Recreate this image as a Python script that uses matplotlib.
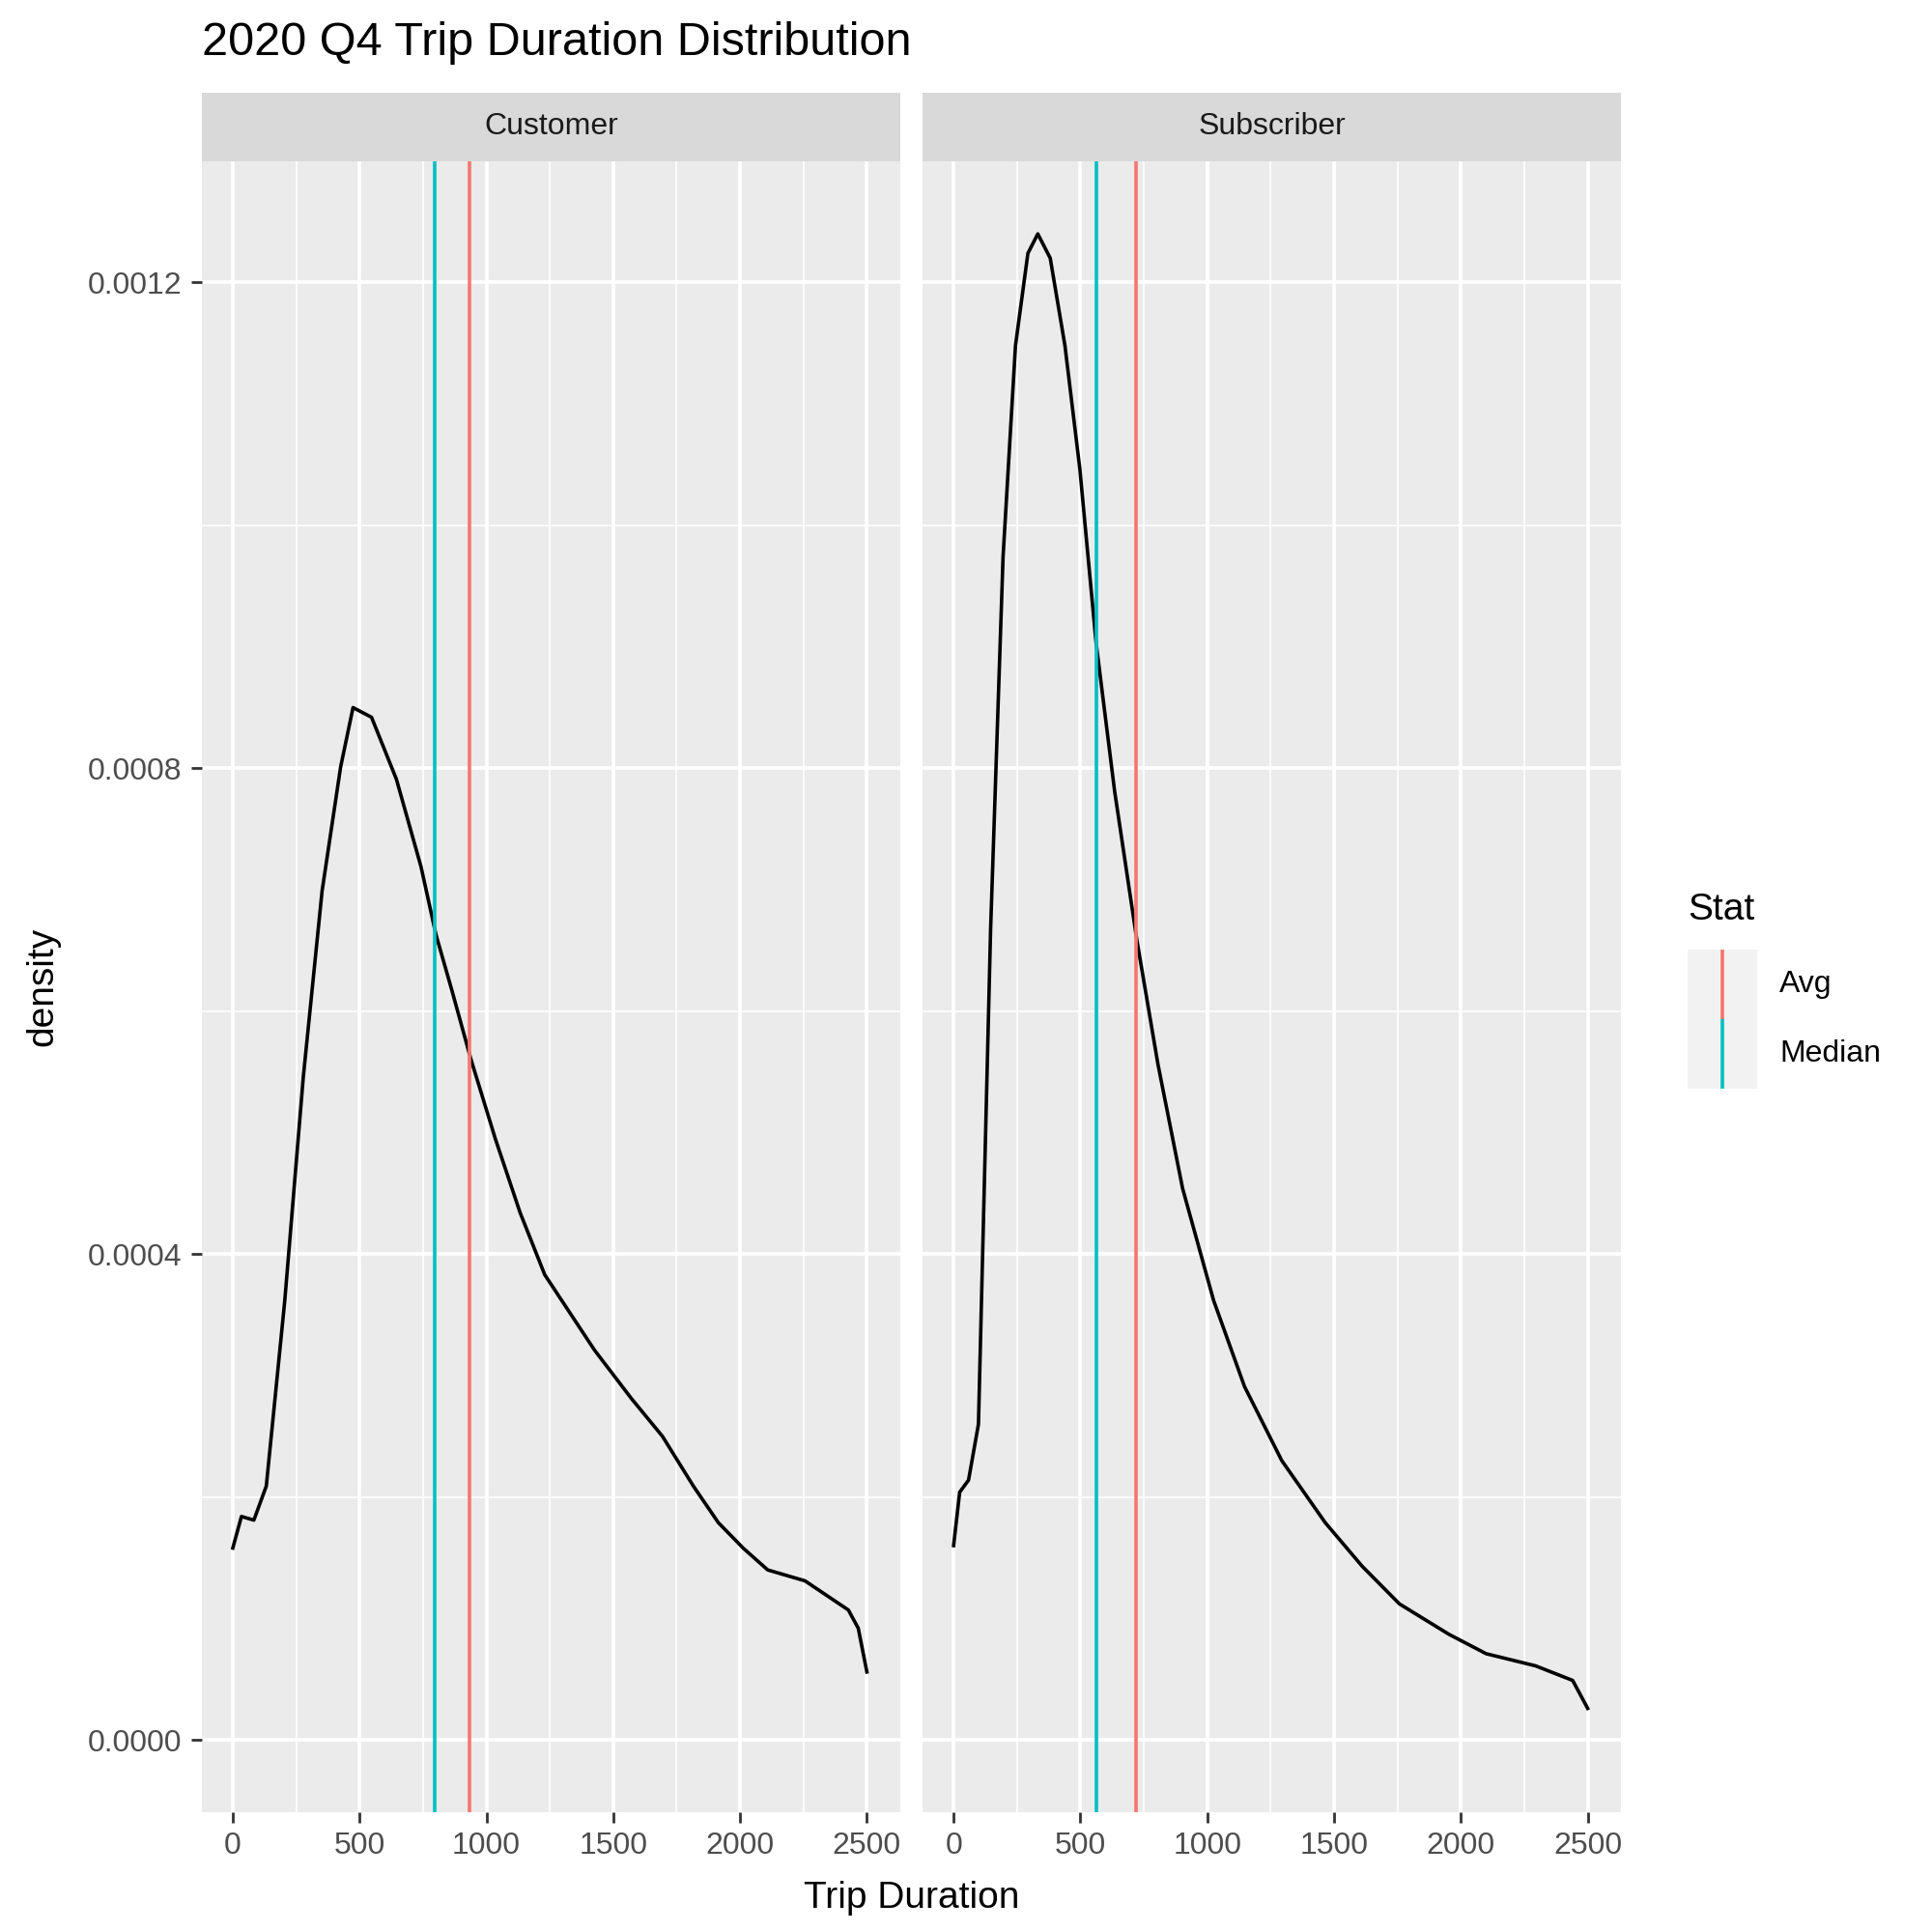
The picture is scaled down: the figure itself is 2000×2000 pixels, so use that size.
import numpy as np
import matplotlib
matplotlib.use("Agg")
import matplotlib.pyplot as plt

plt.rcParams['font.family'] = ['Liberation Sans', 'DejaVu Sans']

panels = ["Customer", "Subscriber"]
cust_x = [0, 34, 83, 132, 205, 278, 352, 425, 474, 547, 645, 742, 801, 864, 938, 1035, 1133,
          1230, 1328, 1426, 1572, 1694, 1816, 1914, 2012, 2109, 2256, 2427, 2466, 2500]
cust_y = [0.000158, 0.000184, 0.000181, 0.000209, 0.000362, 0.000546, 0.000699, 0.000801,
          0.00085, 0.000842, 0.000791, 0.000719, 0.000663, 0.000617, 0.000561, 0.000495,
          0.000434, 0.000383, 0.000352, 0.000321, 0.000281, 0.00025, 0.000209, 0.000179,
          0.000158, 0.00014, 0.000131, 0.000107, 0.000092, 0.000056]
subs_x = [0, 24, 59, 98, 146, 195, 244, 293, 332, 381, 439, 498, 562, 635, 723, 806, 903,
          1025, 1147, 1294, 1465, 1611, 1758, 1953, 2100, 2295, 2441, 2500]
subs_y = [0.00016, 0.000204, 0.000214, 0.00026, 0.000668, 0.000974, 0.001148, 0.001224,
          0.00124, 0.00122, 0.001148, 0.001046, 0.000903, 0.000781, 0.000658, 0.000556,
          0.000454, 0.000362, 0.000291, 0.00023, 0.000179, 0.000143, 0.000112, 0.000087,
          0.000071, 0.000061, 0.000049, 0.000026]
medians = [796, 562]
avgs = [933, 718]

AVG_C, MED_C = "#F8766D", "#00BFC4"
S = 1560.0
fig = plt.figure(figsize=(10, 10), dpi=200)
fig.patch.set_facecolor("white")

curves = [(cust_x, cust_y), (subs_x, subs_y)]
for i, name in enumerate(panels):
    left = (163 if i == 0 else 745) / S
    ax = fig.add_axes([left, 1 - 1463 / S, 564 / S, 1333 / S])
    ax.set_facecolor("#EBEBEB")
    for sp in ax.spines.values():
        sp.set_visible(False)
    ax.set_xlim(-122, 2632)
    ax.set_ylim(-0.0000592, 0.0013)
    ax.set_xticks([0, 500, 1000, 1500, 2000, 2500])
    ax.set_xticks([250, 750, 1250, 1750, 2250], minor=True)
    ax.set_yticks([0, 0.0004, 0.0008, 0.0012])
    ax.set_yticks([0.0002, 0.0006, 0.001], minor=True)
    ax.grid(which="major", color="white", lw=1.3)
    ax.grid(which="minor", color="white", lw=0.6)
    ax.set_axisbelow(True)
    ax.tick_params(which="major", color="#333333", length=4, width=1, labelsize=11.5,
                   labelcolor="#4D4D4D")
    ax.tick_params(which="minor", length=0)
    if i == 0:
        ax.set_yticklabels(["0.0000", "0.0004", "0.0008", "0.0012"])
        ax.set_ylabel("density", fontsize=14, labelpad=10)
    else:
        ax.tick_params(axis="y", which="both", length=0, labelleft=False)
    ax.plot(curves[i][0], curves[i][1], color="black", lw=1.3)
    ax.axvline(medians[i], color=MED_C, lw=1.3)
    ax.axvline(avgs[i], color=AVG_C, lw=1.3)
    strip = fig.add_axes([left, 1 - 130 / S, 564 / S, 55 / S])
    strip.set_facecolor("#D9D9D9")
    strip.set_xticks([]); strip.set_yticks([])
    for sp in strip.spines.values():
        sp.set_visible(False)
    strip.text(0.5, 0.5, name, ha="center", va="center", fontsize=11.5, color="#1A1A1A")

fig.text(736 / S, 1 - 1533 / S, "Trip Duration", ha="center", va="center", fontsize=14)
fig.text(163 / S, 1 - 35 / S, "2020 Q4 Trip Duration Distribution", ha="left", va="center",
         fontsize=17.5)

# legend
fig.text(1363 / S, 1 - 735 / S, "Stat", ha="left", va="center", fontsize=14)
for j, (lab, col) in enumerate([("Avg", AVG_C), ("Median", MED_C)]):
    top = 767 + j * 56
    k = fig.add_axes([1363 / S, 1 - (top + 56) / S, 56 / S, 56 / S])
    k.set_facecolor("#F2F2F2")
    k.set_xlim(0, 1); k.set_ylim(0, 1)
    k.set_xticks([]); k.set_yticks([])
    for sp in k.spines.values():
        sp.set_visible(False)
    k.axvline(0.5, color=col, lw=1.3)
    fig.text(1437 / S, 1 - (top + 28) / S, lab, ha="left", va="center", fontsize=11.5)

fig.savefig("out.png", dpi=200)
